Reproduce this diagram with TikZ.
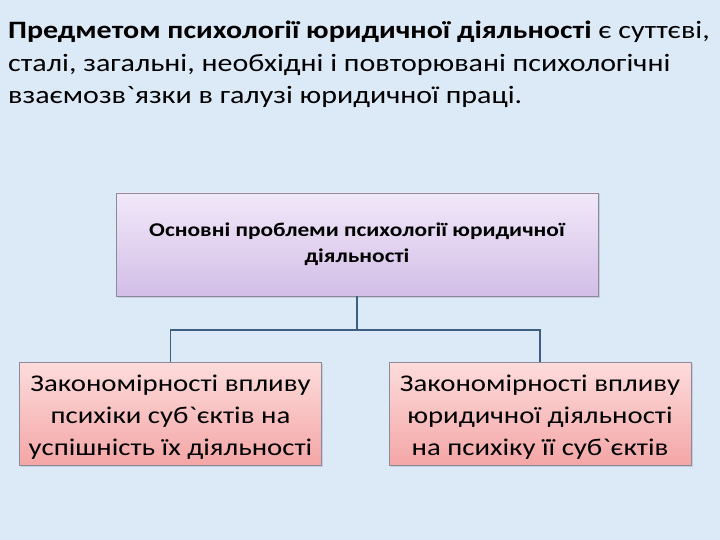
\documentclass[tikz,border=0pt]{standalone}
\usepackage{fontspec}
\setmainfont{Carlito}[Ligatures=TeXOff, FakeStretch=1.2]
\usetikzlibrary{shadows}
\definecolor{bgblue}{HTML}{DCE9F7}
\definecolor{linec}{HTML}{3F5F80}
\definecolor{boxline}{HTML}{8A8A9A}
\definecolor{lavtop}{HTML}{F1E8F9}
\definecolor{lavbot}{HTML}{D3BEE7}
\definecolor{pinktop}{HTML}{FDDCDC}
\definecolor{pinkbot}{HTML}{F4A6A6}
\tikzset{
  topbox/.style={draw=boxline, line width=0.8pt, top color=lavtop, bottom color=lavbot,
    minimum width=482pt, minimum height=103pt, align=center, inner sep=0pt,
    font=\fontsize{19.5}{26}\selectfont\bfseries, drop shadow={shadow xshift=1.5pt, shadow yshift=-1.5pt, opacity=0.25}},
  subbox/.style={draw=boxline, line width=0.8pt, top color=pinktop, bottom color=pinkbot,
    minimum width=302pt, minimum height=103pt, align=center, inner sep=0pt,
    font=\fontsize{24}{32}\selectfont, drop shadow={shadow xshift=1.5pt, shadow yshift=-1.5pt, opacity=0.25}},
  conn/.style={draw=linec, line width=1.6pt}
}
\begin{document}
\begin{tikzpicture}[x=1pt,y=1pt]
\fill[bgblue] (0,0) rectangle (720,-540);
\useasboundingbox (0,0) rectangle (720,-540);
\node[anchor=north west, align=left, inner sep=0pt, font=\fontsize{25}{32.5}\selectfont] (title) at (8,-21)
 {\textbf{Предметом психології юридичної діяльності} є суттєві,\\
  сталі, загальні, необхідні і повторювані психологічні\\
  взаємозв`язки в галузі юридичної праці.};
\node[topbox] (main) at (357,-244.5) {Основні проблеми психології юридичної\\діяльності};
\node[subbox] (left) at (170.5,-413.5) {\rule{0pt}{23pt}Закономірності впливу\\психіки суб`єктів на\\успішність їх діяльності};
\node[subbox] (right) at (540,-413.5) {\rule{0pt}{23pt}Закономірності впливу\\юридичної діяльності\\на психіку її суб`єктів};
\coordinate (mid) at (357,-330);
\draw[conn] (main.south) -- (mid);
\draw[conn] (mid) -| (left.north);
\draw[conn] (mid) -| (right.north);
\end{tikzpicture}
\end{document}
